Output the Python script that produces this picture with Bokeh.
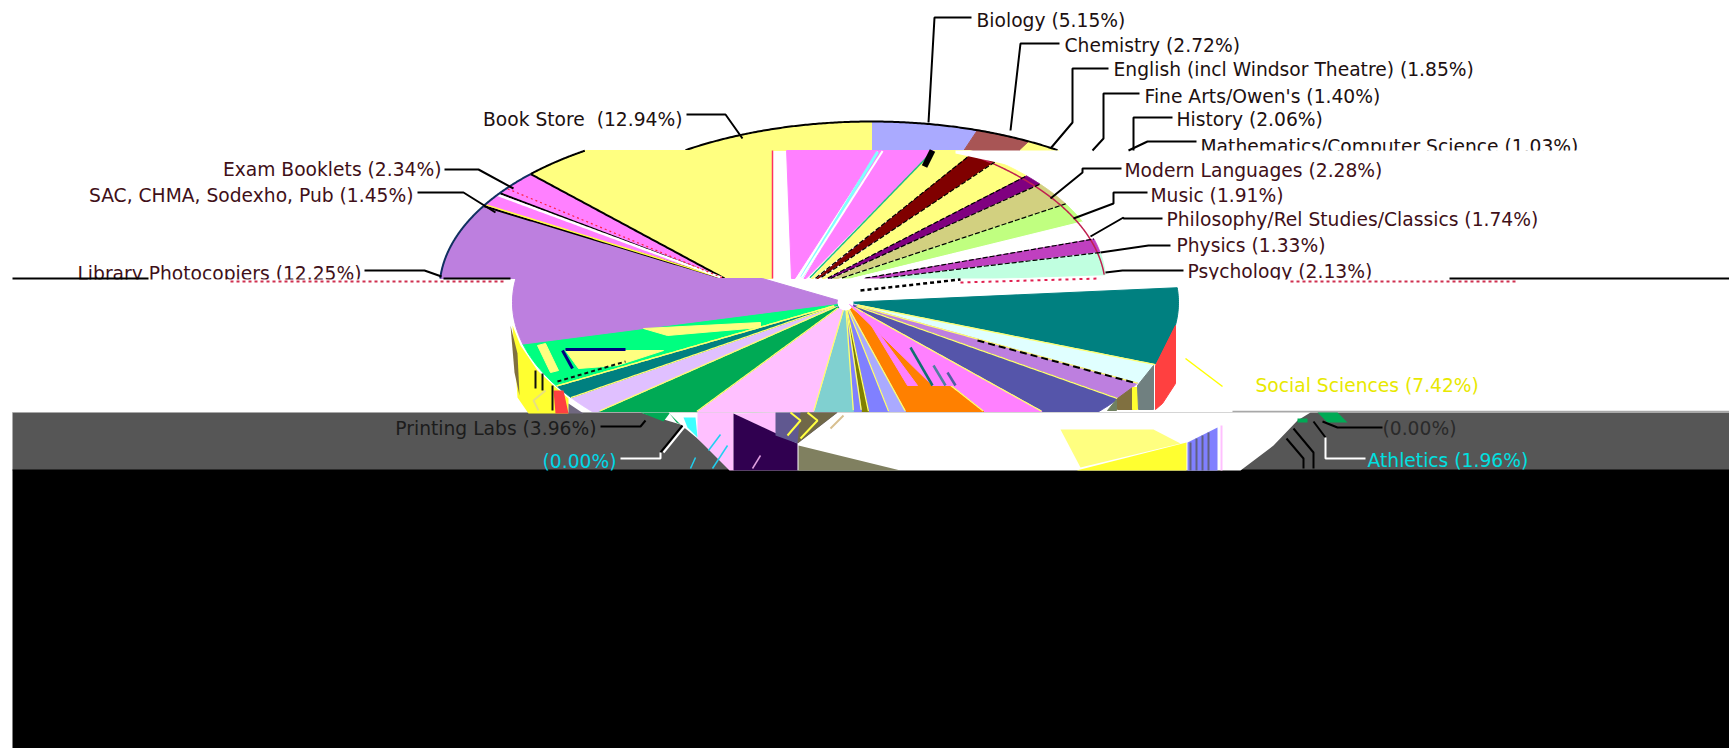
import numpy as np
from bokeh.embed import file_html
from bokeh.resources import INLINE
from bokeh.plotting import figure
from bokeh.core.properties import value

# Slices clockwise from twelve o'clock
names = ["Biology", "Chemistry", "English (incl Windsor Theatre)", "Fine Arts/Owen's", "History",
         "Mathematics/Computer Science", "Modern Languages", "Music", "Philosophy/Rel Studies/Classics",
         "Physics", "Psychology", "Social Sciences", "", "Athletics", "", "", "", "", "", "", "", "", "", "",
         "Printing Labs", "", "", "", "", "Library Photocopiers",
         "SAC, CHMA, Sodexho, Pub", "Exam Booklets", "Book Store\u00a0"]
shares = [5.15, 2.72, 1.85, 1.40, 2.06, 1.03, 2.28, 1.91, 1.74, 1.33, 2.13, 7.42, 0.00, 1.96,
          1.74, 3.53, 2.69, 4.75, 1.17, 1.45, 0.52, 0.59, 2.91, 7.27, 3.96, 1.86, 1.30, 0.00, 4.30,
          12.25, 1.45, 2.34, 12.94]

W = "#FFFFFF"
colors_top = ["#AAAAFF", "#A85555", "#FFFF80"] + [W] * 29 + ["#FFFF80"]
colors_mid = ["#FF80FF", "#FF80FF", "#FFFF80", "#800000", "#FFFF80", "#800080", "#D2D080", "#C0FF80",
              W, "#C040C0", "#C0FFE0"] + [W] * 18 + ["#BD7FDF", "#FF80FF", "#FF80FF", "#FFFF80"]
colors_low = [W] * 11 + ["#008080", W, "#E0FFFF", "#BD7FDF", "#5555AA", "#FF80FF", "#FF8000", "#AAAAFF",
                         "#8080FF", "#808000", "#8080FF", "#80D0D0", "#FFC0FF", "#00AA55", "#E0C0FF",
                         "#008080", W, "#00FF80", "#BD7FDF", W, W, W]

# Label anchors, kept apart from the values they state
label_left = [(976, 20, 0), (1064, 45, 1), (1113, 69, 2), (1144, 96, 3), (1176, 119, 4), (1200, 146, 5),
              (1124, 170, 6), (1150, 195, 7), (1166, 219, 8), (1176, 245, 9), (1187, 271, 10)]
label_right = [(682, 119, 32), (441, 169, 31), (413, 195, 30), (361, 273, 29)]

RX, RY = 333, 168
edges = np.concatenate([[0], np.cumsum(shares)]) / sum(shares) * 2 * np.pi


def clip(poly, lo, hi):
    """Keep the part of a polygon between two horizontal pixel rows."""
    for bound, sign in ((lo, 1), (hi, -1)):
        out = []
        for a, b in zip(poly, poly[1:] + poly[:1]):
            da, db = sign * (a[1] - bound), sign * (b[1] - bound)
            if da >= 0:
                out.append(a)
            if da * db < 0:
                t = da / (da - db)
                out.append((a[0] + t * (b[0] - a[0]), a[1] + t * (b[1] - a[1])))
        poly = out
        if not poly:
            return []
    return poly


def rim(t, cx, cy, bend=0.0):
    return cx + RX * np.sin(t) + bend * max(np.cos(t), 0), cy - RY * np.cos(t)


def draw_band(p, colors, lo, hi, cx, cy, only, apex_fn=None, bend=0.0, tail=None):
    xs, ys, fill = [], [], []
    for i in only:
        if shares[i] == 0:
            continue
        th = np.linspace(edges[i], edges[i + 1], 40)
        arc = [rim(t, cx, cy, bend) for t in th]
        apex = apex_fn(i) if apex_fn else (cx, cy)
        extra = tail.get(i, []) if tail else []
        poly = clip([apex] + arc + extra, lo, hi)
        if poly:
            xs.append([q[0] for q in poly])
            ys.append([q[1] for q in poly])
            fill.append(colors[i])
    p.patches(xs, ys, fill_color=fill, line_color=fill, line_width=1)


def arc_line(p, t0, t1, lo, hi, cx, cy, color="#000000", width=2.0):
    th = np.linspace(t0, t1, 240)
    x = cx + RX * np.sin(th)
    y = cy - RY * np.cos(th)
    keep = (y >= lo) & (y <= hi)
    p.line(x[keep], y[keep], line_color=color, line_width=width)


def spoke(p, t, apex, cx, cy, lo, hi, color, width=1.5, dash="solid", bend=0.0, start=0.0, stop=1.0):
    a, b = apex, rim(t, cx, cy, bend)
    s = np.linspace(start, stop, 100)
    x = a[0] + s * (b[0] - a[0])
    y = a[1] + s * (b[1] - a[1])
    keep = (y >= lo) & (y <= hi)
    p.line(x[keep], y[keep], line_color=color, line_width=width, line_dash=dash)


p = figure(width=1729, height=748, x_range=(0, 1729), y_range=(748, 0), output_backend="svg",
           toolbar_location=None, min_border=0, outline_line_color=None,
           background_fill_color=W, border_fill_color=W)
p.axis.visible = False
p.grid.visible = False

# Dark bands at the foot of the page
p.quad(left=12, right=1729, top=412, bottom=470, fill_color="#565656", line_color=None)
p.quad(left=12, right=1729, top=469, bottom=748, fill_color="#000000", line_color=None)
p.line([12, 650], [412, 412], line_color="#A8A8A8", line_width=1)
p.line([1232, 1729], [411, 411], line_color="#A8A8A8", line_width=1.5)
p.patch([640, 1310, 1297, 1273, 1240, 733, 697, 680],
        [412, 412, 420, 445, 470, 470, 438, 424], fill_color=W, line_color=None)

# Top of the pie, above the first row break
draw_band(p, colors_top, 0, 150, 871, 289, only=[0, 1, 2, 32])
arc_line(p, edges[32] - 2 * np.pi, edges[3], 0, 150, 871, 289)

# Middle of the pie: left half fans out of one point, right half from a drifting one
LEFT_APEX = (726, 279)
draw_band(p, colors_mid, 150, 278, 772, 289, only=[29, 30, 31, 32],
          apex_fn=lambda i: LEFT_APEX, tail={32: [(772, 279)]})
draw_band(p, colors_mid, 150, 278, 772, 289, only=list(range(11)), bend=13.0,
          apex_fn=lambda i: (785 + 60 * (edges[i] + edges[i + 1]) / 2 / (np.pi / 2), 283))
p.line([772, 772], [150, 278], line_color="#FF3060", line_width=1.5)
for k in (30, 31, 32):
    spoke(p, edges[k], LEFT_APEX, 772, 289, 150, 278, "#000000", 2)
spoke(p, edges[30] + 0.01, LEFT_APEX, 772, 289, 150, 278, "#FFFF40", 1.5)
spoke(p, edges[31] - 0.012, LEFT_APEX, 772, 289, 150, 278, W, 2.5)
spoke(p, edges[31] + 0.035, LEFT_APEX, 772, 289, 150, 278, "#FF2040", 1.2, "2 3")
arc_line(p, edges[29], edges[32], 150, 278, 772, 289, "#103060")
arc_line(p, edges[32], 2 * np.pi * 1.0, 150, 278, 772, 289)
arc_line(p, edges[3], edges[11], 150, 278, 772, 289, "#C02050", 1.5)

drift = lambda e: (785 + 60 * e / (np.pi / 2), 283)
spoke(p, edges[1], drift(edges[1]), 772, 289, 150, 278, "#80FFFF", 3, bend=13.0)
spoke(p, edges[1] + 0.015, drift(edges[1]), 772, 289, 150, 278, W, 2, bend=13.0)
spoke(p, edges[2], drift(edges[2]), 772, 289, 150, 278, "#20C080", 1.5, bend=13.0)
for k in (3, 4, 5, 6, 7, 9, 10):
    spoke(p, edges[k], drift(edges[k]), 772, 289, 150, 278, "#000000", 1.2, "5 2", bend=13.0)
p.line([932, 924], [150, 166], line_color="#000000", line_width=6)
p.patch([955, 1058, 1058, 1024, 955], [150, 150, 176, 168, 153], fill_color=W, line_color=None)
p.patch([843, 1180, 1180, 843], [278, 278, 284, 284], fill_color=W, line_color=None)
p.line([960, 1100], [282, 278], line_color="#E02050", line_width=2, line_dash="3 4")
p.line([860, 960], [290, 279], line_color="#000000", line_width=2.5, line_dash="4 3")

# Lower band of the pie, centred further right and lower
C3 = (845, 302)
draw_band(p, colors_low, 278, 411, C3[0], C3[1], only=list(range(11, 30)))
for k in range(13, 29):
    spoke(p, edges[k], C3, C3[0], C3[1], 278, 411, "#FFFF70", 1.3, start=0.04)
p.scatter([C3[0]], [C3[1]], size=16, fill_color=W, line_color=None)

# Broken-up strip inside the orange slice and the nested stripes of the lower left
shard_x = [[849, 963, 932], [863, 917, 907], [1117, 1132, 1132, 1117], [1132, 1137, 1137, 1132],
           [1137, 1153, 1153, 1138], [1155, 1175, 1175, 1162, 1155], [1107, 1116, 1116],
           [643, 760, 760, 667], [537, 545, 558, 550], [565, 663, 617, 578]]
shard_y = [[304, 385, 385], [312, 385, 385], [398, 387, 409, 409], [387, 387, 409, 409],
           [385, 365, 409, 409], [365, 325, 383, 403, 409], [410, 399, 410],
           [328, 322, 327, 335], [345, 343, 370, 372], [350, 350, 365, 368]]
shard_c = ["#FF80FF", "#FF80FF", "#807040", "#FFFF30", "#708080", "#FF4040", "#708060",
           "#FFFF80", "#FFFF80", "#FFFF80"]
p.patches(shard_x, shard_y, fill_color=shard_c, line_color=shard_c)
p.multi_line([[910, 932], [933, 945], [947, 955]], [[347, 385], [365, 385], [372, 385]],
             line_color=["#107070", "#5080A0", "#5060A0"], line_width=2.5)
p.line([977, 1133], [340, 382], line_color="#000000", line_width=2, line_dash="7 4")
p.line([565, 625], [349, 349], line_color="#000080", line_width=3)
p.line([562, 572], [350, 368], line_color="#000080", line_width=3)
p.line([557, 625], [381, 361], line_color="#101010", line_width=2, line_dash="4 3")

# Side wall along the lower rim
wall_x = [[512, 520, 537, 553, 568, 568, 528, 517], [510, 517, 519, 514], [553, 563, 568, 555],
          [568, 583, 568], [697, 733, 733, 729, 697], [733, 775, 787, 775, 733], [733, 797, 797, 733],
          [775, 837, 797, 775], [800, 837, 797], [798, 900, 798], [1060, 1153, 1180, 1080],
          [1076, 1186, 1186], [1187, 1217, 1217, 1187], [1317, 1337, 1347, 1327], [1297, 1307, 1307, 1297],
          [640, 668, 680, 676, 669, 663], [683, 695, 697, 687]]
wall_y = [[325, 345, 370, 385, 398, 413, 413, 397], [325, 353, 395, 372], [390, 390, 413, 413],
          [403, 413, 413], [412, 412, 470, 470, 438], [413, 412, 420, 433, 413], [413, 443, 470, 470],
          [412, 412, 443, 435], [412, 412, 443], [445, 470, 470], [429, 429, 443, 467],
          [470, 442, 470], [442, 427, 470, 470], [412, 412, 422, 422], [418, 418, 422, 422],
          [412, 412, 424, 422, 413, 421], [417, 417, 437, 427]]
wall_c = ["#FFFF30", "#807040", "#FF4040", "#706880", "#FFC0FF", "#FFC0FF", "#300050", "#605890",
          "#706848", "#808060", "#FFFF80", "#FFFF30", "#8080FF", "#00AA55", "#00AA55", "#00AA55", "#40FFFF"]
p.patches(wall_x, wall_y, fill_color=wall_c, line_color=None)
p.multi_line([[535, 535], [542, 542], [552, 552], [538, 533, 545], [790, 800, 787], [807, 817, 800],
              [843, 830], [1190, 1190], [1196, 1196], [1202, 1202], [1208, 1208], [1221, 1221]],
             [[370, 388], [373, 390], [385, 410], [410, 400, 390], [412, 420, 435], [412, 420, 438],
              [415, 428], [442, 470], [438, 470], [435, 470], [432, 470], [425, 470]],
             line_color=["#101010", "#101010", "#101010", "#E8E080", "#FFFF40", "#FFFF40",
                         "#D8C090", "#606080", "#606080", "#606080", "#606080", "#FFC0FF"],
             line_width=2)
p.multi_line([[720, 708], [727, 712], [695, 690], [760, 752], [1185, 1222]],
             [[434, 450], [445, 468], [457, 468], [455, 468], [358, 386]],
             line_color=["#20D0F0", "#20D0F0", "#20D0F0", "#E0A0E0", "#FFFF00"],
             line_width=1.5)

# Leader lines
lead_x = [[928, 934, 971], [1010, 1020, 1059], [1050, 1072, 1072, 1108], [1092, 1103, 1103, 1139],
          [1133, 1133, 1172], [1128, 1147, 1196], [1050, 1082, 1082, 1121], [1073, 1113, 1113, 1147],
          [1090, 1123, 1123, 1162], [1100, 1148, 1170], [1105, 1122, 1183],
          [686, 725, 742], [444, 478, 513], [417, 463, 495], [364, 424, 441],
          [600, 640, 645], [1322, 1337, 1382], [1313, 1325], [660, 682], [1293, 1313, 1313], [1286, 1303, 1303]]
lead_y = [[122, 17, 17], [130, 43, 43], [148, 122, 68, 68], [150, 138, 93, 93], [150, 117, 117],
          [150, 141, 141], [198, 172, 168, 168], [218, 203, 192, 192], [236, 217, 218, 218], [252, 245, 245],
          [272, 270, 270], [114, 114, 138], [169, 169, 188], [192, 192, 212], [270, 270, 276],
          [426, 426, 420], [421, 427, 427], [421, 437], [452, 425], [428, 452, 468], [438, 458, 468]]
p.multi_line(lead_x, lead_y, line_color="#000000", line_width=2)
p.multi_line([[620, 660, 660], [1325, 1325, 1365], [663, 685]], [[458, 458, 452], [437, 458, 458], [452, 425]],
             line_color=W, line_width=2)

font = value("DejaVu Sans")
SIZE = "18.7px"


def stated(i):
    return f"{names[i]} ({shares[i]:.2f}%)".strip()


def label(x, y, text, align, color):
    p.text([x], [y], text=[text], text_align=align, text_baseline="middle", text_font=font,
           text_font_size=SIZE, text_color=color)


for x, y, i in label_left:
    label(x, y, stated(i), "left", "#201010" if y < 150 else "#401018")
for x, y, i in label_right:
    label(x, y, stated(i), "right", "#201010" if y < 150 else "#401018")
label(1255, 385, stated(11), "left", "#E8E800")
label(1382, 428, stated(12), "left", "#2A2A2A")
label(1367, 460, stated(13), "left", "#00E0E0")
label(596, 428, stated(24), "right", "#1C1C1C")
label(616, 461, stated(27), "right", "#00D8E8")

# Row breaks that cut through the labels
p.quad(left=1190, right=1600, top=150, bottom=161, fill_color=W, line_color=None)
p.quad(left=60, right=505, top=279, bottom=292, fill_color=W, line_color=None)
p.quad(left=1181, right=1460, top=279, bottom=292, fill_color=W, line_color=None)
p.line([12, 148], [278, 278], line_color="#000000", line_width=2)
p.line([443, 510], [278, 278], line_color="#000000", line_width=2)
p.line([1449, 1729], [278, 278], line_color="#000000", line_width=2)
p.line([230, 505], [281, 281], line_color="#D03050", line_width=2, line_dash="3 3")
p.line([1290, 1517], [281, 281], line_color="#D03050", line_width=2, line_dash="3 3")

open("out.html", "w").write(file_html(p, INLINE))
